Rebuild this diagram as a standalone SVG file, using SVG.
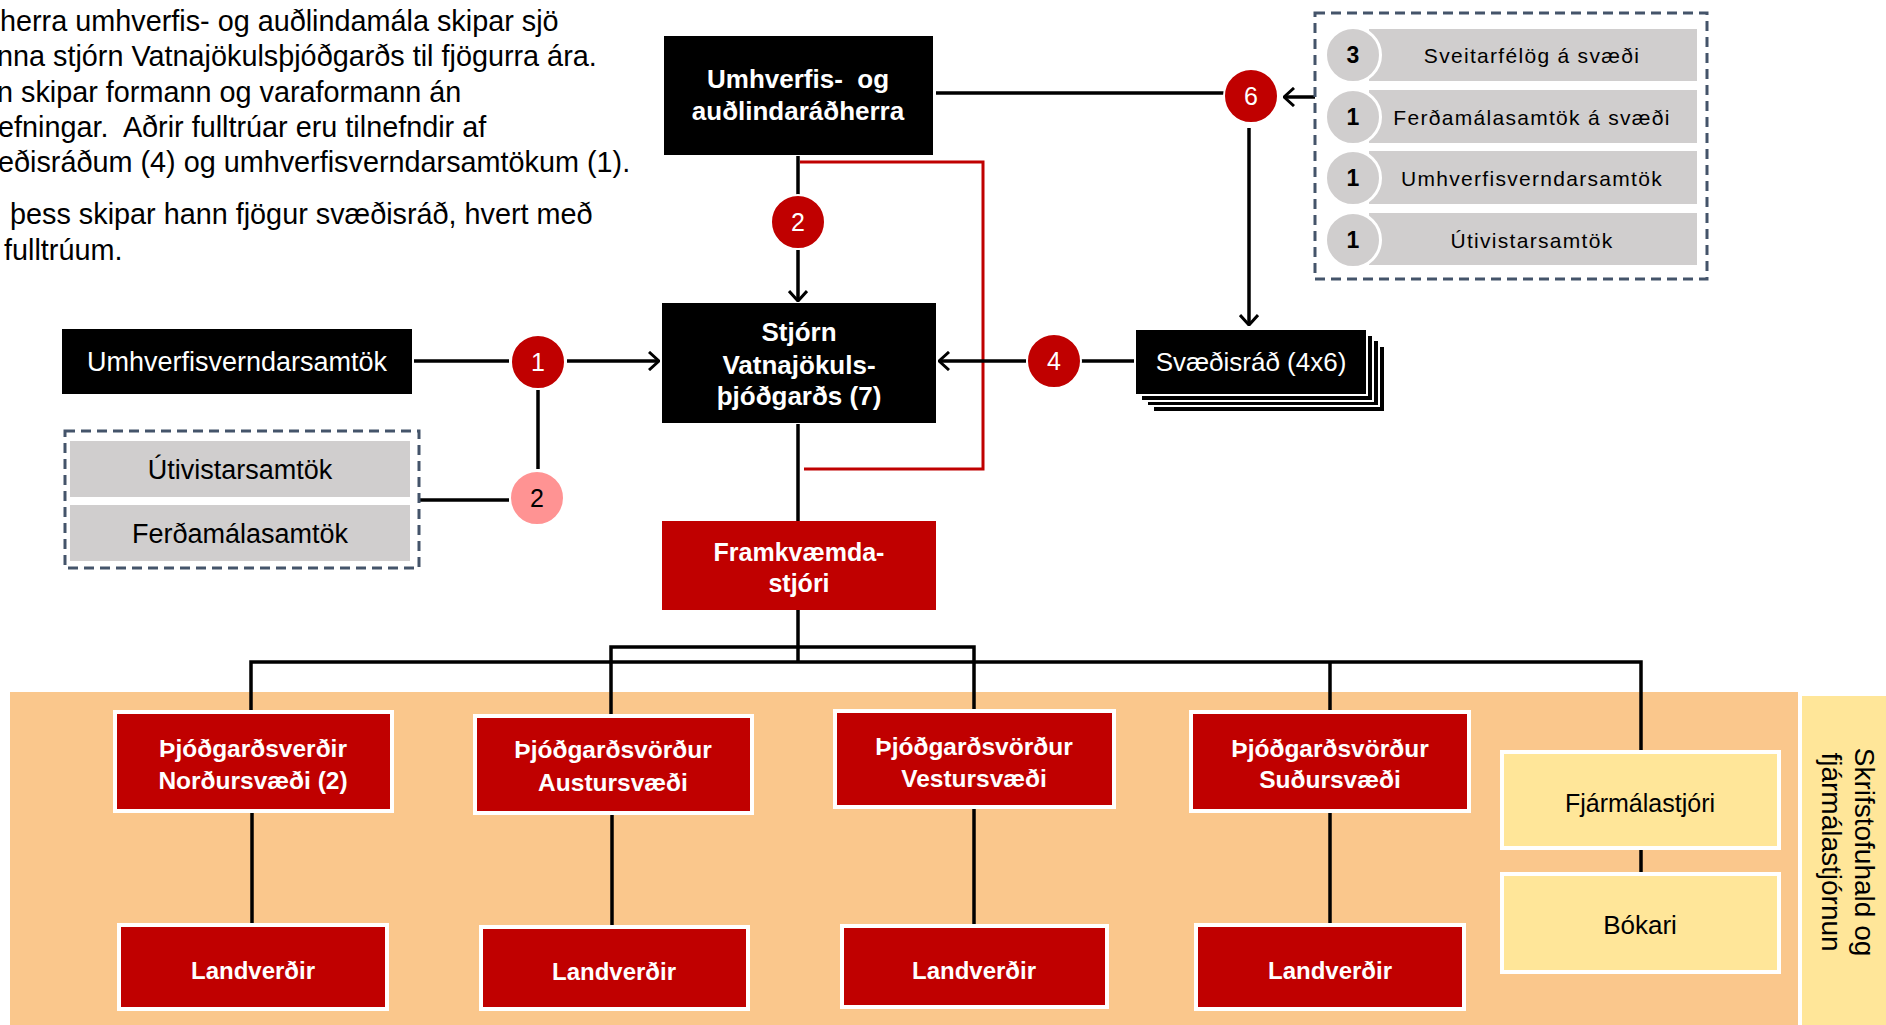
<svg xmlns="http://www.w3.org/2000/svg" width="1886" height="1025" viewBox="0 0 1886 1025">
<defs>
<style>
.t{font-family:"Liberation Sans",Arial,sans-serif}
.para{font-family:"Liberation Sans",Arial,sans-serif;font-size:28.8px;fill:#000}
.wb{font-family:"Liberation Sans",Arial,sans-serif;font-weight:bold;fill:#fff;text-anchor:middle}
.blk{fill:#000}
.red{fill:#C00000;stroke:#fff;stroke-width:4}
.yel{fill:#FFE699;stroke:#fff;stroke-width:4}
.gray{fill:#D0CECE}
.dash{fill:none;stroke:#44546A;stroke-width:3;stroke-dasharray:10 6}
.ln{fill:none;stroke:#000;stroke-width:3.5}
.num{font-family:"Liberation Sans",Arial,sans-serif;font-size:25px;fill:#fff;text-anchor:middle}
.gtx{font-family:"Liberation Sans",Arial,sans-serif;font-size:21px;letter-spacing:1.3px;fill:#000;text-anchor:middle}
.gnum{font-family:"Liberation Sans",Arial,sans-serif;font-size:23px;font-weight:bold;fill:#000;text-anchor:middle}
</style>
<marker id="arr" viewBox="0 0 12 20" markerWidth="12" markerHeight="20" refX="11" refY="10" orient="auto" markerUnits="userSpaceOnUse">
<path d="M1,1 L11,10 L1,19" fill="none" stroke="#000" stroke-width="3"/>
</marker>
</defs>
<rect width="1886" height="1025" fill="#fff"/>

<g id="intro-text">
<text class="para" x="0" y="31">herra umhverfis- og auðlindamála skipar sjö</text>
<text class="para" x="-3" y="66">nna stjórn Vatnajökulsþjóðgarðs til fjögurra ára.</text>
<text class="para" x="-3" y="102">n skipar formann og varaformann án</text>
<text class="para" x="-2" y="137" xml:space="preserve">efningar.  Aðrir fulltrúar eru tilnefndir af</text>
<text class="para" x="-2" y="172">eðisráðum (4) og umhverfisverndarsamtökum (1).</text>
<text class="para" x="10" y="224">þess skipar hann fjögur svæðisráð, hvert með</text>
<text class="para" x="4" y="260">fulltrúum.</text>
</g>

<rect id="orange-bg" x="10" y="692" width="1790" height="340" fill="#FAC78C"/>

<g id="connectors">
<path class="ln" d="M936,93 H1224"/>
<path class="ln" d="M1315,97 H1284" marker-end="url(#arr)"/>
<path class="ln" d="M1249,128 V325" marker-end="url(#arr)"/>
<path class="ln" d="M798,156 V195"/>
<path class="ln" d="M798,250 V301" marker-end="url(#arr)"/>
<path d="M800,162 H983 V469 H804" fill="none" stroke="#C00000" stroke-width="3"/>
<path class="ln" d="M1135,361 H1081"/>
<path class="ln" d="M1026,361 H939" marker-end="url(#arr)"/>
<path class="ln" d="M414,361 H509"/>
<path class="ln" d="M567,361 H659" marker-end="url(#arr)"/>
<path class="ln" d="M538,390 V469"/>
<path class="ln" d="M420,500 H509"/>
<path class="ln" d="M798,424 V521"/>
<path class="ln" d="M798,610 V662"/>
<path class="ln" d="M611,716 V647 H974 V712"/>
<path class="ln" d="M251,712 V662 H1641 V750"/>
<path class="ln" d="M1330,662 V712"/>
<path class="ln" d="M252,811 V925"/>
<path class="ln" d="M612,813 V927"/>
<path class="ln" d="M974,807 V926"/>
<path class="ln" d="M1330,811 V925"/>
<path class="ln" d="M1641,848 V874"/>
</g>

<g id="minister">
<rect class="blk" x="664" y="36" width="269" height="119"/>
<text class="wb" x="798" y="88" font-size="26" xml:space="preserve">Umhverfis-  og</text>
<text class="wb" x="798" y="120" font-size="26">auðlindaráðherra</text>
</g>

<g id="circle-6">
<circle cx="1251" cy="96" r="27" fill="#C00000" stroke="#fff" stroke-width="2"/>
<text class="num" x="1251" y="105">6</text>
</g>

<g id="nominators-right">
<rect class="dash" x="1315" y="13" width="392" height="266"/>
<rect class="gray" x="1369" y="29" width="328" height="52"/>
<rect class="gray" x="1369" y="90" width="328" height="53"/>
<rect class="gray" x="1369" y="151" width="328" height="53"/>
<rect class="gray" x="1369" y="213" width="328" height="52"/>
<circle cx="1353" cy="55" r="27.5" fill="#D0CECE" stroke="#fff" stroke-width="3"/>
<circle cx="1353" cy="117" r="27.5" fill="#D0CECE" stroke="#fff" stroke-width="3"/>
<circle cx="1353" cy="178" r="27.5" fill="#D0CECE" stroke="#fff" stroke-width="3"/>
<circle cx="1353" cy="240" r="27.5" fill="#D0CECE" stroke="#fff" stroke-width="3"/>
<text class="gnum" x="1353" y="63">3</text>
<text class="gnum" x="1353" y="125">1</text>
<text class="gnum" x="1353" y="186">1</text>
<text class="gnum" x="1353" y="248">1</text>
<text class="gtx" x="1532" y="63">Sveitarfélög á svæði</text>
<text class="gtx" x="1532" y="125">Ferðamálasamtök á svæði</text>
<text class="gtx" x="1532" y="186">Umhverfisverndarsamtök</text>
<text class="gtx" x="1532" y="248">Útivistarsamtök</text>
</g>

<g id="circle-2-top">
<circle cx="798" cy="222" r="27" fill="#C00000" stroke="#fff" stroke-width="2"/>
<text class="num" x="798" y="231">2</text>
</g>

<g id="board">
<rect class="blk" x="662" y="303" width="274" height="120"/>
<text class="wb" x="799" y="341" font-size="26">Stjórn</text>
<text class="wb" x="799" y="374" font-size="26">Vatnajökuls-</text>
<text class="wb" x="799" y="405" font-size="26">þjóðgarðs (7)</text>
</g>

<g id="regional-councils">
<rect x="1153" y="346" width="232" height="66" fill="#000" stroke="#fff" stroke-width="2"/>
<rect x="1147" y="340" width="232" height="66" fill="#000" stroke="#fff" stroke-width="2"/>
<rect x="1141" y="335" width="232" height="66" fill="#000" stroke="#fff" stroke-width="2"/>
<rect x="1135" y="329" width="232" height="66" fill="#000" stroke="#fff" stroke-width="2"/>
<text class="t" x="1251" y="371" font-size="26" fill="#fff" text-anchor="middle">Svæðisráð (4x6)</text>
</g>

<g id="circle-4">
<circle cx="1054" cy="361" r="27" fill="#C00000" stroke="#fff" stroke-width="2"/>
<text class="num" x="1054" y="370">4</text>
</g>

<g id="env-orgs">
<rect class="blk" x="62" y="329" width="350" height="65"/>
<text class="t" x="237" y="371" font-size="27" fill="#fff" text-anchor="middle">Umhverfisverndarsamtök</text>
</g>

<g id="circle-1">
<circle cx="538" cy="362" r="27" fill="#C00000" stroke="#fff" stroke-width="2"/>
<text class="num" x="538" y="371">1</text>
</g>

<g id="nominators-left">
<rect class="dash" x="65" y="431" width="354" height="137"/>
<rect class="gray" x="70" y="441" width="340" height="56"/>
<rect class="gray" x="70" y="505" width="340" height="56"/>
<text class="t" x="240" y="479" font-size="27" text-anchor="middle">Útivistarsamtök</text>
<text class="t" x="240" y="543" font-size="27" text-anchor="middle">Ferðamálasamtök</text>
</g>

<g id="circle-2-pink">
<circle cx="537" cy="498" r="27" fill="#FF9393" stroke="#fff" stroke-width="2"/>
<text class="num" x="537" y="507" style="fill:#000">2</text>
</g>

<g id="director">
<rect x="662" y="521" width="274" height="89" fill="#C00000"/>
<text class="wb" x="799" y="561" font-size="25">Framkvæmda-</text>
<text class="wb" x="799" y="592" font-size="25">stjóri</text>
</g>

<g id="ranger-north">
<rect class="red" x="115" y="712" width="277" height="99"/>
<text class="wb" x="253" y="757" font-size="24.5">Þjóðgarðsverðir</text>
<text class="wb" x="253" y="789" font-size="24.5">Norðursvæði (2)</text>
</g>
<g id="ranger-east">
<rect class="red" x="475" y="716" width="277" height="97"/>
<text class="wb" x="613" y="758" font-size="24.5">Þjóðgarðsvörður</text>
<text class="wb" x="613" y="791" font-size="24.5">Austursvæði</text>
</g>
<g id="ranger-west">
<rect class="red" x="835" y="711" width="279" height="96"/>
<text class="wb" x="974" y="755" font-size="24.5">Þjóðgarðsvörður</text>
<text class="wb" x="974" y="787" font-size="24.5">Vestursvæði</text>
</g>
<g id="ranger-south">
<rect class="red" x="1191" y="712" width="278" height="99"/>
<text class="wb" x="1330" y="757" font-size="24.5">Þjóðgarðsvörður</text>
<text class="wb" x="1330" y="788" font-size="24.5">Suðursvæði</text>
</g>

<g id="wardens-north">
<rect class="red" x="119" y="925" width="268" height="84"/>
<text class="wb" x="253" y="979" font-size="24">Landverðir</text>
</g>
<g id="wardens-east">
<rect class="red" x="481" y="927" width="267" height="82"/>
<text class="wb" x="614" y="980" font-size="24">Landverðir</text>
</g>
<g id="wardens-west">
<rect class="red" x="842" y="926" width="265" height="81"/>
<text class="wb" x="974" y="979" font-size="24">Landverðir</text>
</g>
<g id="wardens-south">
<rect class="red" x="1196" y="925" width="268" height="84"/>
<text class="wb" x="1330" y="979" font-size="24">Landverðir</text>
</g>

<g id="cfo">
<rect class="yel" x="1502" y="752" width="277" height="96"/>
<text class="t" x="1640" y="812" font-size="25" text-anchor="middle">Fjármálastjóri</text>
</g>
<g id="bookkeeper">
<rect class="yel" x="1502" y="874" width="277" height="98"/>
<text class="t" x="1640" y="934" font-size="26" text-anchor="middle">Bókari</text>
</g>

<g id="office-label">
<rect class="yel" x="1800" y="694" width="100" height="340"/>
<text class="t" font-size="28" text-anchor="middle" transform="translate(1855,852) rotate(90)">Skrifstofuhald og</text>
<text class="t" font-size="28" text-anchor="middle" transform="translate(1822,852) rotate(90)">fjármálastjórnun</text>
</g>
</svg>
